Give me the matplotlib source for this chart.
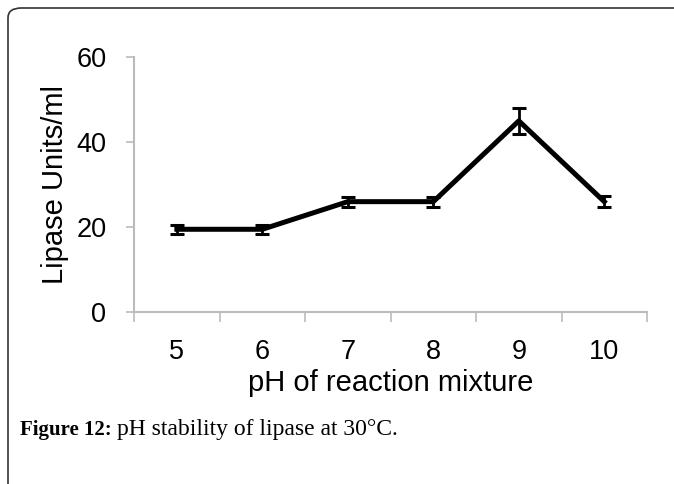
import matplotlib.pyplot as plt
from matplotlib.patches import FancyBboxPatch

# pH stability of lipase at 30C
ph = ['5', '6', '7', '8', '9', '10']
units = [19.5, 19.5, 26.0, 26.0, 45.0, 26.0]
err = [1.0, 1.0, 1.2, 1.2, 3.0, 1.3]
y_ticks = [0, 20, 40, 60]

plt.rcParams['font.family'] = ['Liberation Sans', 'DejaVu Sans']

fig = plt.figure(figsize=(6.74, 4.84), dpi=100)
ax = fig.add_axes([0.199, 0.355, 0.761, 0.527])

pos = list(range(len(ph)))
ax.errorbar(pos, units, yerr=err, color='black', lw=3.6, elinewidth=2,
            capsize=5, capthick=2.2)

ax.set_xlim(-0.5, len(ph) - 0.5)
ax.set_ylim(0, 60)
ax.set_yticks(y_ticks)
ax.set_xticks([p + 0.5 for p in [-1] + pos])
ax.set_xticklabels([])
ax.set_xticks(pos, minor=True)
ax.set_xticklabels(ph, minor=True)
ax.tick_params(axis='x', which='minor', length=0, pad=19, labelsize=19.5)
ax.tick_params(axis='x', which='major', length=7, color='#bbbbbb', width=1.2)
ax.tick_params(axis='y', length=6, color='#bbbbbb', width=1.2, labelsize=19.5, pad=14)

for s in ['top', 'right']:
    ax.spines[s].set_visible(False)
for s in ['left', 'bottom']:
    ax.spines[s].set_color('#bbbbbb')
    ax.spines[s].set_linewidth(1.5)

ax.set_ylabel('Lipase Units/ml', fontsize=21, labelpad=5)
ax.set_xlabel('pH of reaction mixture', fontsize=21, labelpad=3)

# rounded frame around the figure
frame = FancyBboxPatch((8 / 674, -0.1), 1.2, 1 - 8 / 484 + 0.1,
                       boxstyle='round,pad=0,rounding_size=0.02',
                       transform=fig.transFigure, fill=False,
                       edgecolor='#333333', lw=1.2)
fig.patches.append(frame)

cap_y = 1 - 430 / 484
t1 = fig.text(20 / 674, cap_y, 'Figure 12:', fontsize=15, fontweight='bold',
              family='Liberation Serif', va='center')
r = fig.canvas.get_renderer()
x_end = t1.get_window_extent(renderer=r).x1
fig.text((x_end + 5) / 674, cap_y, 'pH stability of lipase at 30°C.',
         fontsize=17, family='Liberation Serif', va='center')

fig.savefig('out.png', dpi=100)
